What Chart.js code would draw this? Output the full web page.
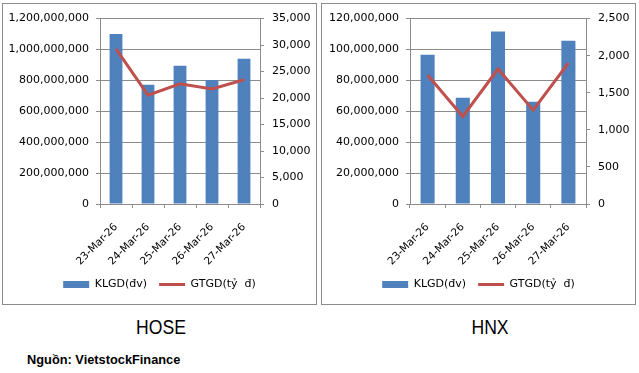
<!DOCTYPE html>
<html>
<head>
<meta charset="utf-8">
<script src="https://cdn.jsdelivr.net/npm/chart.js@4"></script>
<style>
  body { margin: 0; background: #fff; width: 639px; height: 373px; position: relative; overflow: hidden; }
  .box { position: absolute; top: 3px; width: 313px; height: 300px; border: 1px solid #8c8c8c; }
  #boxL { left: 2px; }
  #boxR { left: 321px; }
  .name { position: absolute; top: 316px; font-family: "Liberation Sans Narrow", "Liberation Sans", sans-serif; font-size: 20px; color: #000; transform: translateX(-50%) scaleX(0.88); }
  .src { position: absolute; left: 27px; top: 352px; font-family: "Liberation Sans", sans-serif; font-weight: bold; font-size: 12.8px; color: #000; }
</style>
</head>
<body>
<div class="box" id="boxL"><canvas id="hose" width="313" height="300"></canvas></div>
<div class="box" id="boxR"><canvas id="hnx" width="313" height="300"></canvas></div>
<div class="name" style="left:161px">HOSE</div>
<div class="name" style="left:490px">HNX</div>
<div class="src">Nguồn: VietstockFinance</div>
<script>
const days = ["23-Mar-26", "24-Mar-26", "25-Mar-26", "26-Mar-26", "27-Mar-26"];

// HOSE
const hoseKLGD = [1100000000, 772000000, 895000000, 802000000, 940000000];
const hoseGTGD = [29270, 20560, 22700, 21700, 23460];

// HNX
const hnxKLGD = [96600000, 68800000, 111600000, 66200000, 105700000];
const hnxGTGD = [1739, 1180, 1820, 1266, 1901];

const gridCol = '#8c8c8c';
const tickFont = {family: 'DejaVu Sans', size: 11};

function makeChart(id, vol, val, volMax, volStep, valMax, valStep, leftW, rightW) {
  new Chart(document.getElementById(id), {
    data: {
      labels: days,
      datasets: [
        {
          type: 'line',
          label: 'GTGD(tỷ  đ)',
          data: val,
          yAxisID: 'y1',
          borderColor: '#C0504D',
          backgroundColor: '#C0504D',
          borderWidth: 3,
          pointRadius: 0,
          pointStyle: 'line',
          order: 0
        },
        {
          type: 'bar',
          label: 'KLGD(đv)',
          data: vol,
          yAxisID: 'y',
          backgroundColor: '#4F81BD',
          categoryPercentage: 1,
          barPercentage: 0.4,
          pointStyle: 'rect',
          order: 1
        }
      ]
    },
    options: {
      responsive: false,
      animation: false,
      devicePixelRatio: 1,
      layout: {padding: {left: 0, right: 0, top: 11, bottom: 4}},
      plugins: {
        tooltip: {enabled: false},
        legend: {
          position: 'bottom',
          reverse: true,
          labels: {
            usePointStyle: true,
            pointStyleWidth: 26,
            boxHeight: 7,
            color: '#000',
            font: {family: 'DejaVu Sans', size: 11},
            padding: 12
          }
        }
      },
      scales: {
        x: {
          offset: true,
          afterFit: s => { s.height = 63; },
          grid: {offset: true, drawOnChartArea: false, tickLength: 4, color: gridCol},
          border: {color: gridCol},
          ticks: {minRotation: 45, maxRotation: 45, color: '#000', font: {family: 'DejaVu Sans', size: 10.5}, padding: 13}
        },
        y: {
          position: 'left',
          min: 0,
          max: volMax,
          afterFit: s => { s.width = leftW; },
          grid: {color: gridCol, tickLength: 4},
          border: {color: gridCol},
          ticks: {stepSize: volStep, color: '#000', font: tickFont, padding: 7,
                  callback: v => v.toLocaleString('en-US')}
        },
        y1: {
          position: 'right',
          min: 0,
          max: valMax,
          afterFit: s => { s.width = rightW; },
          grid: {drawOnChartArea: false, color: gridCol, tickLength: 4},
          border: {color: gridCol},
          ticks: {stepSize: valStep, color: '#000', font: tickFont, padding: 8,
                  callback: v => v.toLocaleString('en-US')}
        }
      }
    }
  });
}

makeChart('hose', hoseKLGD, hoseGTGD, 1200000000, 200000000, 35000, 5000, 97, 56);
makeChart('hnx', hnxKLGD, hnxGTGD, 120000000, 20000000, 2500, 500, 88, 49);
</script>
</body>
</html>
